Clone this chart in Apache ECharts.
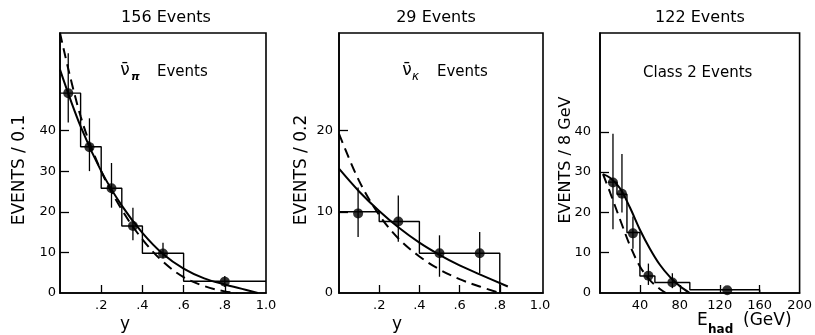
<!DOCTYPE html>
<html>
<head>
<meta charset="utf-8">
<script src="https://cdn.jsdelivr.net/npm/echarts@6/dist/echarts.min.js"></script>
<style>html,body{margin:0;padding:0;background:#fff}#c{width:815px;height:335px}</style>
</head>
<body>
<div id="c"></div>
<script>
// ---------- Panel 1: anti-nu_pi, y distribution ----------
const p1Edges = [0, 0.1, 0.2, 0.3, 0.4, 0.6, 1.0];
const p1Hist = [49.2, 36, 25.8, 16.5, 9.8, 2.9];
const p1PtX = [0.04, 0.143, 0.25, 0.354, 0.5, 0.8];
const p1PtY = [49.2, 35.9, 25.8, 16.5, 9.7, 2.8];
const p1ErrLo = [42, 30, 21, 13, 8.5, 1.5];
const p1ErrHi = [59, 43, 32, 21, 12.4, 4.2];
const p1SolidX = [0, 0.1, 0.2, 0.3, 0.4, 0.5, 0.6, 0.7, 0.8, 0.9, 0.96];
const p1SolidY = [55, 41, 30, 21.5, 14.8, 9.6, 6, 3.6, 2.1, 0.8, 0];
const p1DashX = [0, 0.1, 0.2, 0.3, 0.4, 0.5, 0.6, 0.7, 0.8, 0.86];
const p1DashY = [64, 43.5, 30, 20.5, 13.2, 7.7, 3.9, 1.7, 0.4, 0];

// ---------- Panel 2: anti-nu_K, y distribution ----------
const p2Edges = [0, 0.2, 0.4, 0.8];
const p2Hist = [10, 8.8, 4.9];
const p2PtX = [0.095, 0.295, 0.5, 0.7];
const p2PtY = [9.8, 8.8, 4.9, 4.9];
const p2ErrLo = [6.9, 6.3, 2.0, 2.4];
const p2ErrHi = [13, 12, 7.1, 7.5];
const p2SolidX = [0, 0.1, 0.2, 0.3, 0.4, 0.5, 0.6, 0.7, 0.84];
const p2SolidY = [15.3, 12.5, 10.1, 8, 6.2, 4.7, 3.4, 2.3, 0.8];
const p2DashX = [0, 0.1, 0.2, 0.3, 0.4, 0.5, 0.6, 0.7, 0.8];
const p2DashY = [19.6, 13.8, 9.6, 6.6, 4.5, 2.9, 1.7, 0.8, 0];

// ---------- Panel 3: Class 2 events, E_had distribution ----------
const p3Edges = [8, 17, 27, 40, 55, 90, 160];
const p3Hist = [27.5, 24.5, 15, 4.2, 2.6, 0.8];
const p3PtX = [13, 22, 33, 48.5, 72.5, 127.5];
const p3PtY = [27.4, 24.6, 14.8, 4.3, 2.6, 0.7];
const p3ErrLo = [15.8, 20, 11, 2, 1.2, 0.7];
const p3ErrHi = [39.5, 34.5, 19, 7.3, 4.9, 0.7];
const p3SolidX = [3, 10, 20, 30, 40, 50, 60, 70, 80, 90];
const p3SolidY = [29.5, 28.6, 26, 21.2, 15.7, 11, 7, 4, 1.7, 0];
const p3DashX = [3, 10, 20, 30, 40, 50, 60, 66];
const p3DashY = [29.5, 25, 18.3, 11.8, 6.6, 3.2, 1, 0];

// tick labels
const p1XTicks = [0.2, 0.4, 0.6, 0.8, 1.0];
const p1XLabels = ['.2', '.4', '.6', '.8', '1.0'];
const p2XTicks = [0.2, 0.4, 0.6, 0.8, 1.0];
const p2XLabels = ['.2', '.4', '.6', '.8', '1.0'];
const p3XTicks = [40, 80, 120, 160, 200];
const p3XLabels = ['40', '80', '120', '160', '200'];
const p1YTicks = [0, 10, 20, 30, 40];
const p2YTicks = [0, 10, 20];
const p3YTicks = [0, 10, 20, 30, 40];

const FONT = '"DejaVu Sans", "Liberation Sans", sans-serif';

function histPoints(edges, h, closeEnd) {
  const pts = [];
  for (let i = 0; i < h.length; i++) {
    pts.push([edges[i], h[i]]);
    pts.push([edges[i + 1], h[i]]);
  }
  if (closeEnd) pts.push([edges[edges.length - 1], 0]);
  return pts;
}
function zip(a, b) { return a.map((v, i) => [v, b[i]]); }
function errData(x, lo, hi) { return x.map((v, i) => [v, lo[i], hi[i]]); }

function xAxisDef(idx, max, ticks, labels, tickLimit) {
  return {
    type: 'value', gridIndex: idx, min: 0, max: max,
    axisLine: { show: true, lineStyle: { color: '#000', width: 1.6 } },
    axisTick: { show: true, inside: true, length: 8, customValues: ticks.filter(t => t < tickLimit), lineStyle: { color: '#000', width: 1.3 } },
    axisLabel: {
      customValues: ticks, margin: 6, color: '#000', fontSize: 13, fontFamily: FONT, showMaxLabel: true,
      formatter: v => { const i = ticks.findIndex(t => Math.abs(t - v) < 1e-6); return i >= 0 ? labels[i] : ''; }
    },
    splitLine: { show: false }
  };
}
function yAxisDef(idx, max, ticks, margin) {
  return {
    type: 'value', gridIndex: idx, min: 0, max: max,
    axisLine: { show: true, lineStyle: { color: '#000', width: 1.6 } },
    axisTick: { show: true, inside: true, length: 9, customValues: ticks.filter(t => t > 0), lineStyle: { color: '#000', width: 1.3 } },
    axisLabel: { customValues: ticks, margin: margin, color: '#000', fontSize: 13, fontFamily: FONT, formatter: v => String(v) },
    splitLine: { show: false }
  };
}

function panelSeries(idx, edges, hist, closeEnd, ptX, ptY, lo, hi, sX, sY, dX, dY) {
  return [
    { type: 'line', xAxisIndex: idx, yAxisIndex: idx, data: histPoints(edges, hist, closeEnd), showSymbol: false, symbol: 'none',
      lineStyle: { color: '#000', width: 1.4 }, silent: true, animation: false },
    { type: 'line', xAxisIndex: idx, yAxisIndex: idx, data: zip(sX, sY), smooth: 0.35, symbol: 'none',
      lineStyle: { color: '#000', width: 2 }, animation: false },
    { type: 'line', xAxisIndex: idx, yAxisIndex: idx, data: zip(dX, dY), smooth: 0.35, symbol: 'none',
      lineStyle: { color: '#000', width: 2, type: [10, 6] }, animation: false },
    { type: 'custom', xAxisIndex: idx, yAxisIndex: idx, data: errData(ptX, lo, hi), encode: { x: 0, y: [1, 2] },
      renderItem: (params, api) => {
        const a = api.coord([api.value(0), api.value(1)]);
        const b = api.coord([api.value(0), api.value(2)]);
        return { type: 'line', shape: { x1: a[0], y1: a[1], x2: b[0], y2: b[1] }, style: { stroke: '#000', lineWidth: 1.3 } };
      }, animation: false },
    { type: 'scatter', xAxisIndex: idx, yAxisIndex: idx, data: zip(ptX, ptY), symbol: 'circle', symbolSize: 10,
      itemStyle: { color: '#000' }, animation: false }
  ];
}

function txt(x, y, text, size, opts) {
  return Object.assign({ type: 'text', x: x, y: y, silent: true,
    style: Object.assign({ text: text, font: size + 'px ' + FONT, fill: '#000', textAlign: 'center', textVerticalAlign: 'middle' }, (opts && opts.style) || {}) },
    (opts && opts.el) || {});
}

const chart = echarts.init(document.getElementById('c'), null, { renderer: 'canvas' });
chart.setOption({
  backgroundColor: '#fff',
  animation: false,
  grid: [
    { left: 60, top: 33, width: 206, height: 260, show: true, borderColor: '#000', borderWidth: 1.6, backgroundColor: 'transparent' },
    { left: 339, top: 33, width: 204, height: 260, show: true, borderColor: '#000', borderWidth: 1.6, backgroundColor: 'transparent' },
    { left: 600, top: 33, width: 205, height: 260, show: true, borderColor: '#000', borderWidth: 1.6, backgroundColor: 'transparent' }
  ],
  xAxis: [
    xAxisDef(0, 1.0, p1XTicks, p1XLabels, 0.99),
    xAxisDef(1, 1.015, p2XTicks, p2XLabels, 0.99),
    xAxisDef(2, 200, p3XTicks, p3XLabels, 199)
  ],
  yAxis: [
    yAxisDef(0, 64, p1YTicks, 4),
    yAxisDef(1, 32, p2YTicks, 6),
    yAxisDef(2, 64.5, p3YTicks, 9)
  ],
  series: [].concat(
    panelSeries(0, p1Edges, p1Hist, false, p1PtX, p1PtY, p1ErrLo, p1ErrHi, p1SolidX, p1SolidY, p1DashX, p1DashY),
    panelSeries(1, p2Edges, p2Hist, true, p2PtX, p2PtY, p2ErrLo, p2ErrHi, p2SolidX, p2SolidY, p2DashX, p2DashY),
    panelSeries(2, p3Edges, p3Hist, true, p3PtX, p3PtY, p3ErrLo, p3ErrHi, p3SolidX, p3SolidY, p3DashX, p3DashY)
  ),
  graphic: [
    // titles
    txt(166, 18, '156 Events', 16),
    txt(436, 18, '29 Events', 16),
    txt(700, 18, '122 Events', 16),
    // in-panel labels
    txt(125, 71, 'ν\u0304', 17, { style: { fontStyle: 'italic' } }),
    txt(131, 77, 'π', 11, { style: { textAlign: 'left', font: 'italic bold 11px ' + FONT } }),
    txt(157, 72, 'Events', 15, { style: { textAlign: 'left' } }),
    txt(407, 71, 'ν\u0304', 17, { style: { fontStyle: 'italic' } }),
    txt(412, 77, 'κ', 11, { style: { textAlign: 'left', font: 'italic 12px ' + FONT } }),
    txt(437, 72, 'Events', 15, { style: { textAlign: 'left' } }),
    txt(643, 73, 'Class 2 Events', 15, { style: { textAlign: 'left' } }),
    // y axis names
    txt(20, 170, 'EVENTS / 0.1', 17, { el: { rotation: Math.PI / 2 } }),
    txt(302, 170, 'EVENTS / 0.2', 17, { el: { rotation: Math.PI / 2 } }),
    txt(566, 160, 'EVENTS / 8 GeV', 16, { el: { rotation: Math.PI / 2 } }),
    // x axis names
    txt(125, 325, 'y', 17),
    txt(397, 325, 'y', 17),
    txt(697, 321, 'E', 17, { style: { textAlign: 'left' } }),
    txt(708, 330, 'had', 12, { style: { textAlign: 'left', font: 'bold 12px ' + FONT } }),
    txt(743, 321, '(GeV)', 17, { style: { textAlign: 'left' } })
  ]
});
</script>
</body>
</html>
